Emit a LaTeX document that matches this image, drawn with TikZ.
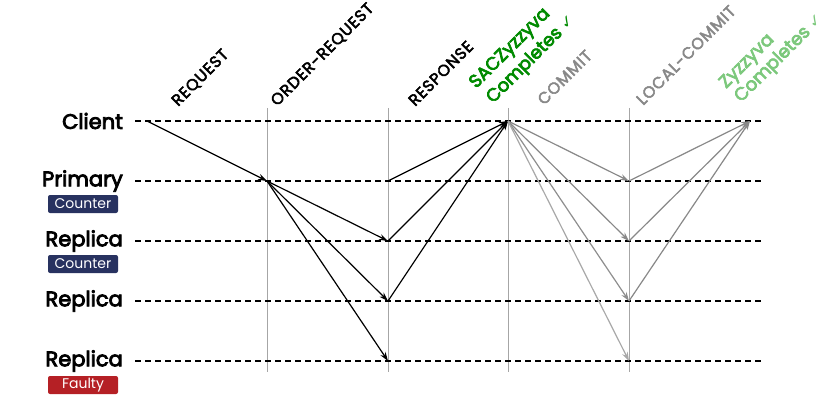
\documentclass[tikz,border=0pt]{standalone}
\usepackage{fontspec}
\setmainfont{Poppins}
\newfontfamily\symfont{DejaVu Sans}
\newfontfamily\labfont[RawFeature={embolden=4}]{Poppins}
\newfontfamily\capsfont[LetterSpace=5,RawFeature={embolden=3}]{Poppins}
\newfontfamily\donefont[RawFeature={embolden=4}]{Poppins}
\usetikzlibrary{arrows.meta}
\definecolor{navy}{HTML}{283260}
\definecolor{badred}{HTML}{B52025}
\definecolor{sacgreen}{HTML}{008A00}
\definecolor{lightgreen}{HTML}{7CC87C}
\definecolor{commitgray}{HTML}{888888}
\definecolor{lightgray2}{HTML}{A8A8A8}
\tikzset{
  rowlabel/.style={anchor=east, font=\labfont\fontsize{21}{24}\selectfont, inner sep=0pt},
  badge/.style={fill=#1, rounded corners=2pt, text=white, minimum width=70pt, minimum height=18pt, inner sep=0pt, font=\fontsize{14}{16}\selectfont},
  timeline/.style={dash pattern=on 6pt off 4pt, line width=1.4pt},
  phase/.style={draw=gray!70, line width=0.8pt},
  phaselabel/.style={rotate=45, anchor=base west, inner sep=0pt, font=\capsfont\fontsize{16}{18}\selectfont},
  donelabel/.style={rotate=45, anchor=base west, inner sep=0pt, font=\donefont\fontsize{18}{21}\selectfont},
  msg/.style={-{Stealth[length=9pt,width=6pt]}, line width=1.2pt},
}
\begin{document}
\begin{tikzpicture}[x=1pt,y=-1pt]
\useasboundingbox (0,0) rectangle (831,396);
% phase lines
\foreach \x/\n in {267/v1,388/v2,508/v3,629/v4}{
  \draw[phase] (\x,108) coordinate (\n top) -- (\x,372) coordinate (\n bot);
}
% timelines
\foreach \y/\n in {121/c,181/p,241/r1,301/r2,361/r3}{
  \draw[timeline] (135,\y) coordinate (\n L) -- (762,\y) coordinate (\n R);
}
% row labels
\node[rowlabel] (lc) at (123,121) {Client};
\node[rowlabel] (lp) at (123,181) {Primary};
\node[rowlabel] (lr1) at (123,241) {Replica};
\node[rowlabel] (lr2) at (123,301) {Replica};
\node[rowlabel] (lr3) at (123,361) {Replica};
\node[badge=navy] (b1) at (83,204) {Counter};
\node[badge=navy] (b2) at (83,264) {Counter};
\node[badge=badred] (b3) at (83,385) {Faulty};
% event points
\coordinate (c0) at (147,121);
\coordinate (p1) at (267,181);
\coordinate (p2) at (388,181);
\coordinate (r1a) at (388,241);
\coordinate (r2a) at (388,301);
\coordinate (r3a) at (388,361);
\coordinate (c3) at (508,121);
\coordinate (p4) at (629,181);
\coordinate (r1b) at (629,241);
\coordinate (r2b) at (629,301);
\coordinate (r3b) at (629,361);
\coordinate (c5) at (750,121);
% phase labels
\node[phaselabel] (t1) at (178,107) {REQUEST};
\node[phaselabel] (t2) at (277,107) {ORDER-REQUEST};
\node[phaselabel] (t3) at (415,107) {RESPONSE};
\node[phaselabel, text=commitgray] (t4) at (544,106) {COMMIT};
\node[phaselabel, text=commitgray] (t5) at (643,106) {LOCAL-COMMIT};
\node[donelabel, text=sacgreen] (d1a) at (476,89) {SACZyzzyva};
\node[donelabel, text=sacgreen] (d1b) at (493,104) {Completes {\symfont\fontsize{16}{18}\selectfont ✓}};
\node[donelabel, text=lightgreen] (d2a) at (726,89) {Zyzzyva};
\node[donelabel, text=lightgreen] (d2b) at (741,103) {Completes {\symfont\fontsize{16}{18}\selectfont ✓}};
% black messages
\draw[msg] (c0) -- (p1);
\draw[msg] (p1) -- (r1a);
\draw[msg] (p1) -- (r2a);
\draw[msg] (p1) -- (r3a);
\draw[msg] (p2) -- (c3);
\draw[msg] (r1a) -- (c3);
\draw[msg] (r2a) -- (c3);
% gray messages
\draw[msg, commitgray] (c3) -- (p4);
\draw[msg, commitgray] (c3) -- (r1b);
\draw[msg, commitgray!80!lightgray2] (c3) -- (r2b);
\draw[msg, lightgray2] (c3) -- (r3b);
\draw[msg, commitgray] (p4) -- (c5);
\draw[msg, commitgray] (r1b) -- (c5);
\draw[msg, commitgray] (r2b) -- (c5);
\end{tikzpicture}
\end{document}
